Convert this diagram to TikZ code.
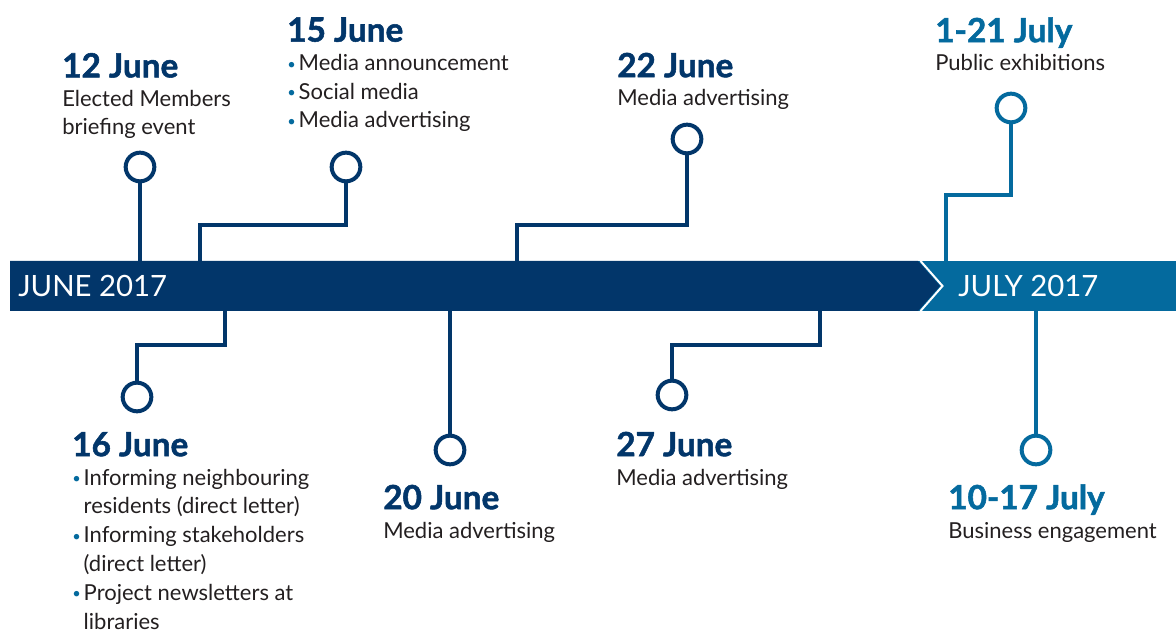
\documentclass[tikz,border=0pt]{standalone}
\usepackage{fontspec}
\setmainfont{Lato}
\newfontfamily\datefam{Lato}[BoldFeatures={FakeBold=1.6}]
\usetikzlibrary{positioning}
\definecolor{navy}{HTML}{02366A}
\definecolor{sea}{HTML}{046A9E}
\definecolor{ink}{HTML}{231F20}
\newcommand\bodyfont{\fontsize{16.5}{21.6}\selectfont}
\newcommand\datefont{\datefam\fontsize{25}{25}\selectfont\bfseries}
\newcommand\barfont{\fontsize{22}{22}\selectfont}
\newcommand\bul{\makebox[8.6pt][l]{\textcolor{sea}{\fontsize{11}{11}\selectfont\raisebox{1pt}{\textbullet}}}}
\newcommand\ind{\hspace*{8.6pt}}

\begin{document}
\begin{tikzpicture}[x=0.75pt, y=-0.75pt,
  link/.style={draw=navy, line width=3pt},
  dot/.style={circle, draw=navy, fill=white, line width=3pt, minimum size=21.5pt, inner sep=0pt},
  event/.style={anchor=base west, align=left, inner sep=0pt, text=ink, font=\bodyfont}
  ]
  \useasboundingbox (0,0) rectangle (1176,630);

  % the two months
  \fill[sea] (914,261) rectangle (1176,311);
  \fill[navy] (10,261) -- (918,261) -- (940,286) -- (918,311) -- (10,311) -- cycle;
  \draw[white, line width=1.5pt] (920.5,261) -- (942.5,286) -- (920.5,311);
  \node[font=\barfont, text=white, anchor=west, inner sep=0pt] (june) at (18,286) {JUNE 2017};
  \node[font=\barfont, text=white, anchor=west, inner sep=0pt] (july) at (958,286) {JULY 2017};

  \coordinate (b12) at (140,261);
  \coordinate (b15) at (200,261);
  \coordinate (b22) at (517,261);
  \coordinate (b121) at (946,261);
  \coordinate (b16) at (225,311);
  \coordinate (b20) at (450,311);
  \coordinate (b27) at (820,311);
  \coordinate (b1017) at (1036,311);

  \node[dot] (c12) at (140,167) {};
  \node[dot] (c15) at (346,167) {};
  \node[dot] (c22) at (687,139) {};
  \node[dot, draw=sea] (c121) at (1011,108) {};
  \node[dot] (c16) at (137,397) {};
  \node[dot] (c20) at (450,450) {};
  \node[dot] (c27) at (672,395) {};
  \node[dot, draw=sea] (c1017) at (1036,450) {};

  \draw[link] (c12) -- (b12);
  \draw[link] (c15) -- ++(0,58) -| (b15);
  \draw[link] (c22) -- ++(0,86) -| (b22);
  \draw[link, draw=sea] (c121) -- ++(0,87) -| (b121);
  \draw[link] (c16) -- ++(0,-52) -| (b16);
  \draw[link] (c20) -- (b20);
  \draw[link] (c27) -- ++(0,-50) -| (b27);
  \draw[link, draw=sea] (c1017) -- (b1017);

  % anchors sit on the last line
  \node[event] (e12) at (62,135) {{\datefont\textcolor{navy}{12 June}}\\Elected Members\\briefing event};
  \node[event] (e15) at (287,128) {{\datefont\textcolor{navy}{15 June}}\\\bul Media announcement\\\bul Social media\\\bul Media advertising};
  \node[event] (e22) at (617,106) {{\datefont\textcolor{navy}{22 June}}\\Media advertising};
  \node[event] (e121) at (935,71) {{\datefont\textcolor{sea}{1-21 July}}\\Public exhibitions};
  \node[event] (e16) at (72,629) {{\datefont\textcolor{navy}{16 June}}\\\bul Informing neighbouring\\\ind residents (direct letter)\\\bul Informing stakeholders\\\ind (direct letter)\\\bul Project newsletters at\\\ind libraries};
  \node[event] (e20) at (383,538) {{\datefont\textcolor{navy}{20 June}}\\Media advertising};
  \node[event] (e27) at (616,485) {{\datefont\textcolor{navy}{27 June}}\\Media advertising};
  \node[event] (e1017) at (948,538) {{\datefont\textcolor{sea}{10-17 July}}\\Business engagement};
\end{tikzpicture}
\end{document}
